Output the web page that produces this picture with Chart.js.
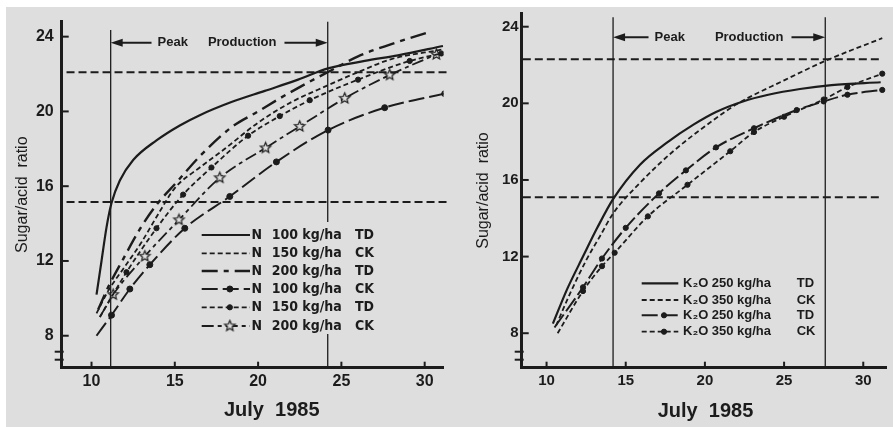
<!DOCTYPE html>
<html>
<head>
<meta charset="utf-8">
<script src="https://cdn.jsdelivr.net/npm/chart.js@4.4.0/dist/chart.umd.min.js"></script>
<style>
  html, body { margin: 0; padding: 0; background: #fff; }
  #sheet { position: absolute; left: 6px; top: 7px; width: 887px; height: 420px; background: #dedede; }
  #nChart { position: absolute; left: 0; top: 0; }
  #kChart { position: absolute; left: 450px; top: 0; }
</style>
</head>
<body>
<div id="sheet"></div>
<canvas id="nChart" width="450" height="427"></canvas>
<canvas id="kChart" width="443" height="427"></canvas>
<script>
const ink = '#1c1c1c';
const paper = '#dedede';

const dayTicks = [10, 15, 20, 25, 30];
const ratioTicks = [8, 12, 16, 20, 24];

// left panel - nitrogen rates
const nLabels = ['N 100 kg/ha TD', 'N 150 kg/ha CK', 'N 200 kg/ha TD', 'N 100 kg/ha CK', 'N 150 kg/ha TD', 'N 200 kg/ha CK'];
const n100tdDays = [10.3, 10.6, 10.9, 11.2, 11.7, 12.5, 13.9, 15.3, 16.5, 18.4, 20.4, 22.4, 24.2, 26.4, 28.4, 31.1];
const n100tdRatio = [10.2, 12.0, 13.8, 15.1, 16.3, 17.4, 18.45, 19.25, 19.8, 20.5, 21.1, 21.7, 22.3, 22.7, 23.0, 23.5];
const n150ckDays = [10.3, 11.0, 12.0, 13.0, 14.0, 15.0, 16.5, 18.0, 20.0, 22.0, 24.2, 26.0, 28.0, 31.0];
const n150ckRatio = [9.2, 10.4, 11.7, 13.0, 14.5, 15.9, 17.0, 18.0, 19.4, 20.5, 21.4, 22.1, 22.8, 23.3];
const n200tdDays = [10.4, 11.0, 11.9, 12.9, 13.9, 15.1, 16.5, 18.4, 20.0, 21.4, 22.9, 24.4, 26.0, 28.0, 30.3];
const n200tdRatio = [9.4, 10.6, 12.1, 13.7, 15.0, 16.2, 17.6, 19.15, 20.0, 20.75, 21.5, 22.2, 22.95, 23.6, 24.25];
const n100ckDays = [10.3, 11.2, 12.3, 13.5, 15.6, 18.3, 21.1, 24.2, 27.6, 31.2];
const n100ckRatio = [8.0, 9.1, 10.5, 11.8, 13.75, 15.45, 17.3, 19.0, 20.2, 20.95];
const n150tdDays = [10.5, 12.1, 13.9, 15.5, 17.2, 19.4, 21.3, 23.1, 26.0, 29.1, 31.0];
const n150tdRatio = [9.0, 11.4, 13.75, 15.55, 17.0, 18.7, 19.75, 20.6, 21.7, 22.7, 23.1];
const n200ckDays = [10.5, 11.3, 13.2, 15.25, 17.7, 20.45, 22.5, 25.2, 27.9, 30.7];
const n200ckRatio = [9.0, 10.2, 12.25, 14.2, 16.45, 18.05, 19.2, 20.7, 21.95, 23.05];
const nPeak = [11.15, 24.18];
const nPeakTop = [24.36, 24.8];
const nThresholds = [22.1, 15.15];

// right panel - potassium rates
const kLabels = ['K₂O 250 kg/ha TD', 'K₂O 350 kg/ha CK', 'K₂O 250 kg/ha TD', 'K₂O 350 kg/ha CK'];
const k250tdDays = [10.4, 11.3, 12.3, 13.2, 14.2, 15.9, 17.6, 19.3, 20.7, 22.4, 24.0, 26.0, 28.0, 31.1];
const k250tdRatio = [8.5, 10.3, 12.0, 13.5, 15.0, 16.8, 17.95, 18.9, 19.55, 20.1, 20.45, 20.75, 20.95, 21.1];
const k350ckDays = [10.6, 11.5, 12.5, 13.4, 14.2, 15.9, 18.0, 20.5, 22.0, 25.0, 27.7, 31.2];
const k350ckRatio = [8.4, 10.1, 11.8, 13.1, 14.25, 15.85, 17.5, 19.1, 19.95, 21.2, 22.25, 23.4];
const k250tdMDays = [10.5, 12.3, 13.5, 15.0, 17.1, 18.8, 20.7, 23.1, 25.8, 27.5, 29.0, 31.2];
const k250tdMRatio = [8.3, 10.4, 11.9, 13.5, 15.3, 16.5, 17.7, 18.7, 19.65, 20.1, 20.45, 20.7];
const k350ckMDays = [10.7, 12.3, 13.5, 14.3, 16.4, 18.9, 21.6, 23.1, 25.0, 27.5, 29.0, 31.2];
const k350ckMRatio = [8.0, 10.2, 11.5, 12.2, 14.1, 15.75, 17.5, 18.5, 19.3, 20.2, 20.85, 21.55];
const kPeak = [14.2, 27.6];
const kPeakTop = [24.5, 24.5];
const kThresholds = [22.3, 15.1];

const pairs = (xs, ys) => xs.map((x, i) => ({ x: x, y: ys[i] }));

function openStar(r) {
  const c = document.createElement('canvas');
  const s = Math.ceil(r * 2 + 4);
  c.width = c.height = s;
  const g = c.getContext('2d');
  g.beginPath();
  for (let i = 0; i < 10; i++) {
    const a = -Math.PI / 2 + i * Math.PI / 5;
    const rr = i % 2 ? r * 0.45 : r;
    g.lineTo(s / 2 + rr * Math.cos(a), s / 2 + rr * Math.sin(a));
  }
  g.closePath();
  g.fillStyle = paper;
  g.fill();
  g.strokeStyle = ink;
  g.lineWidth = 1.2;
  g.stroke();
  return c;
}
const starImg = openStar(5.5);

function curve(label, xs, ys, dash, width, marker) {
  const ds = {
    label: label,
    data: pairs(xs, ys),
    borderColor: ink,
    borderWidth: width,
    borderDash: dash,
    cubicInterpolationMode: 'monotone',
    pointRadius: 0,
    pointBackgroundColor: ink,
    pointBorderColor: ink,
    pointBorderWidth: 1
  };
  if (marker) {
    ds.pointStyle = marker.style;
    ds.pointRadius = xs.map((x, i) => i === 0 ? 0 : marker.r);
    ds.legendRadius = marker.r;
  }
  return ds;
}

function guides(peak, peakTop, thresholds, yMin, xFrom, xTo) {
  const out = [];
  peak.forEach((p, i) => out.push({
    data: [{ x: p, y: yMin }, { x: p, y: peakTop[i] }],
    borderColor: ink, borderWidth: 1.3, pointRadius: 0, tension: 0, clip: false, guide: true
  }));
  thresholds.forEach(t => out.push({
    data: [{ x: xFrom, y: t }, { x: xTo, y: t }],
    borderColor: ink, borderWidth: 2, borderDash: [8, 4], pointRadius: 0, tension: 0, clip: false, guide: true
  }));
  return out;
}

const figureDecor = {
  id: 'figureDecor',
  afterDatasetsDraw(chart, args, o) {
    const { ctx, chartArea: a, scales: { x, y } } = chart;
    const seg = (x0, y0, x1, y1) => { ctx.beginPath(); ctx.moveTo(x0, y0); ctx.lineTo(x1, y1); ctx.stroke(); };
    ctx.save();
    ctx.strokeStyle = ink;
    ctx.fillStyle = ink;

    // inward tick marks
    ctx.lineWidth = 2;
    dayTicks.forEach(v => { const px = x.getPixelForValue(v); seg(px, a.bottom, px, a.bottom - 6); });
    ratioTicks.forEach(v => { const py = y.getPixelForValue(v); seg(a.left, py, a.left + 7, py); });

    // axis break
    seg(a.left - 7, a.bottom - 16, a.left + 2, a.bottom - 16);
    seg(a.left - 7, a.bottom - 8, a.left + 2, a.bottom - 8);

    // peak production arrow
    const py = y.getPixelForValue(o.peakY);
    const x0 = x.getPixelForValue(o.peak[0]);
    const x1 = x.getPixelForValue(o.peak[1]);
    ctx.font = 'bold 13px "Liberation Sans", Arial, sans-serif';
    ctx.textBaseline = 'middle';
    const w0 = ctx.measureText(o.peakWords[0]).width;
    const w1 = ctx.measureText(o.peakWords[1]).width;
    const tl = o.peakTextX - (w0 + o.peakGap + w1) / 2;
    const tr = tl + w0 + o.peakGap + w1;
    ctx.fillText(o.peakWords[0], tl, py);
    ctx.fillText(o.peakWords[1], tl + w0 + o.peakGap, py);
    ctx.lineWidth = 2;
    seg(x0 + 8, py, tl - 6, py);
    seg(tr + 8, py, x1 - 8, py);
    ctx.beginPath(); ctx.moveTo(x0, py); ctx.lineTo(x0 + 12, py - 4); ctx.lineTo(x0 + 12, py + 4); ctx.closePath(); ctx.fill();
    ctx.beginPath(); ctx.moveTo(x1, py); ctx.lineTo(x1 - 12, py - 4); ctx.lineTo(x1 - 12, py + 4); ctx.closePath(); ctx.fill();

    // legend
    const lg = o.legend;
    if (lg.mask) {
      ctx.fillStyle = paper;
      ctx.fillRect(lg.mask[0], lg.mask[1], lg.mask[2], lg.mask[3]);
      ctx.fillStyle = ink;
    }
    const curves = chart.data.datasets.filter(d => !d.guide);
    lg.rows.forEach((ry, i) => {
      const ds = curves[i];
      ctx.lineWidth = ds.borderWidth;
      ctx.setLineDash(ds.borderDash || []);
      seg(lg.lineX[0], ry, lg.lineX[1], ry);
      ctx.setLineDash([]);
      if (ds.legendRadius) {
        ctx.lineWidth = 1;
        Chart.helpers.drawPoint(ctx, { pointStyle: ds.pointStyle, radius: ds.legendRadius, borderWidth: 1, rotation: 0 },
          (lg.lineX[0] + lg.lineX[1]) / 2 + 4, ry);
      }
      const parts = ds.label.split(' ');
      ctx.font = lg.font;
      ctx.fillStyle = ink;
      ctx.fillText(parts[0], lg.textX[0], ry);
      ctx.fillText(parts[1] + ' ' + parts[2], lg.textX[1], ry);
      ctx.fillText(parts[3], lg.textX[2], ry);
    });

    // x axis title
    ctx.font = 'bold 20px "Liberation Sans", Arial, sans-serif';
    ctx.textAlign = 'center';
    ctx.fillText(o.xTitle, o.xTitlePos[0], o.xTitlePos[1]);
    ctx.restore();
  }
};

function panel(id, cfg) {
  return new Chart(document.getElementById(id), {
    type: 'line',
    data: { datasets: cfg.datasets },
    options: {
      responsive: false,
      animation: false,
      layout: { padding: cfg.padding },
      plugins: {
        legend: { display: false },
        tooltip: { enabled: false },
        figureDecor: cfg.decor
      },
      scales: {
        x: {
          type: 'linear',
          min: cfg.xRange[0],
          max: cfg.xRange[1],
          grid: { display: false, drawTicks: false },
          border: { display: true, color: ink, width: 3 },
          ticks: { color: ink, padding: 4, font: { family: 'Liberation Sans', weight: 'bold', size: cfg.tickSize } },
          afterBuildTicks: s => { s.ticks = dayTicks.map(v => ({ value: v })); },
          afterFit: s => { s.height = cfg.xHeight; }
        },
        y: {
          min: cfg.yRange[0],
          max: cfg.yRange[1],
          grid: { display: false, drawTicks: false },
          border: { display: true, color: ink, width: 3 },
          ticks: { color: ink, padding: cfg.yTickPad, font: { family: 'Liberation Sans', weight: 'bold', size: cfg.tickSize } },
          title: {
            display: true,
            text: 'Sugar/acid  ratio',
            color: ink,
            padding: { top: cfg.yTitlePad, bottom: 0 },
            font: { family: 'Liberation Sans', size: 16 }
          },
          afterBuildTicks: s => { s.ticks = ratioTicks.map(v => ({ value: v })); },
          afterFit: s => { s.width = cfg.yWidth; }
        }
      }
    },
    plugins: [figureDecor]
  });
}

panel('nChart', {
  padding: { left: 0, right: 3.3, top: 21.7, bottom: 0 },
  xRange: [8.21, 31.13],
  yRange: [6.29, 24.8],
  xHeight: 59.3,
  yWidth: 61.7,
  yTickPad: 8,
  yTitlePad: 13,
  tickSize: 16,
  datasets: guides(nPeak, nPeakTop, nThresholds, 6.29, 8.5, 31.5).concat([
    curve(nLabels[0], n100tdDays, n100tdRatio, [], 2.2),
    curve(nLabels[1], n150ckDays, n150ckRatio, [5, 3], 1.8),
    curve(nLabels[2], n200tdDays, n200tdRatio, [16, 6, 5, 6], 2.4),
    curve(nLabels[3], n100ckDays, n100ckRatio, [16, 5], 2, { style: 'circle', r: 3 }),
    curve(nLabels[4], n150tdDays, n150tdRatio, [5, 3], 1.8, { style: 'circle', r: 2.6 }),
    curve(nLabels[5], n200ckDays, n200ckRatio, [12, 4, 4, 4], 1.8, { style: starImg, r: 5.5 })
  ]),
  decor: {
    peak: nPeak,
    peakY: 23.68,
    peakWords: ['Peak', 'Production'],
    peakTextX: 217,
    peakGap: 20,
    legend: {
      rows: [235, 253.3, 271, 289, 307.3, 326],
      lineX: [201.7, 250],
      textX: [251.5, 271.7, 355],
      font: 'bold 14px "Liberation Sans Narrow", "DejaVu Sans Condensed", "Liberation Sans", sans-serif',
      mask: [196, 222, 180, 112]
    },
    xTitle: 'July  1985',
    xTitlePos: [271.7, 410]
  }
});

panel('kChart', {
  padding: { left: 0, right: 6.3, top: 13.3, bottom: 0 },
  xRange: [8.43, 31.48],
  yRange: [6.2, 24.7],
  xHeight: 59.3,
  yWidth: 71.7,
  yTickPad: 3,
  yTitlePad: 24,
  tickSize: 15,
  datasets: guides(kPeak, kPeakTop, kThresholds, 6.2, 8.5, 31.05).concat([
    curve(kLabels[0], k250tdDays, k250tdRatio, [], 2.2),
    curve(kLabels[1], k350ckDays, k350ckRatio, [5, 3], 1.8),
    curve(kLabels[2], k250tdMDays, k250tdMRatio, [16, 4], 2, { style: 'circle', r: 2.6 }),
    curve(kLabels[3], k350ckMDays, k350ckMRatio, [5, 3], 1.8, { style: 'circle', r: 2.6 })
  ]),
  decor: {
    peak: kPeak,
    peakY: 23.45,
    peakWords: ['Peak', 'Production'],
    peakTextX: 269,
    peakGap: 30,
    legend: {
      rows: [283.3, 300, 315.3, 331.7],
      lineX: [191.7, 228.3],
      textX: [233, 261.7, 346.7],
      font: 'bold 13px "Liberation Sans", Arial, sans-serif'
    },
    xTitle: 'July  1985',
    xTitlePos: [255.5, 411.7]
  }
});
</script>
</body>
</html>
